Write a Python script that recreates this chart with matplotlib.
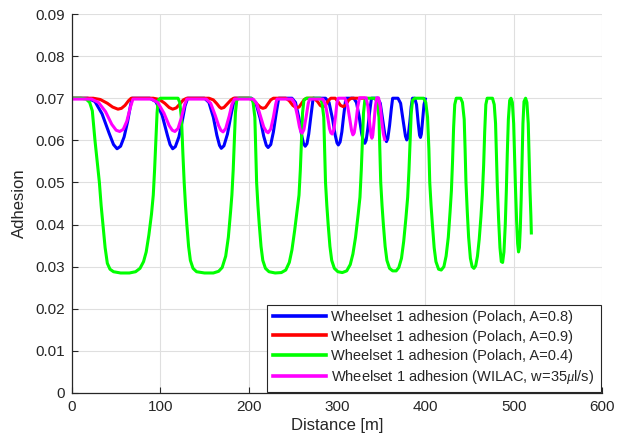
import matplotlib
matplotlib.use("Agg")
import matplotlib.pyplot as plt

# ---- data (distance [m], adhesion) ----
blue_x = [0, 18, 26, 34, 42, 47, 51, 55, 59, 63, 66, 68,
          88, 95, 102, 108, 111, 114, 117, 121, 125, 128, 131,
          150, 155, 160, 164, 167, 169, 172, 176, 180, 184,
          203, 208, 213, 217, 220, 222, 225, 228, 231, 234,
          249, 253, 257, 260, 262, 264, 266, 268, 270, 273,
          287, 291, 295, 298, 300, 301.5, 303.5, 305.5, 307.5, 310,
          319, 322, 325, 328, 330, 331.5, 333, 335, 337, 339,
          346, 349, 352, 354.5, 356, 357.5, 359.5, 361.5, 363,
          369, 372, 375, 377.5, 379, 380.5, 382.5, 384, 385.5,
          388, 390, 392, 393.5, 394.5, 395.5, 397, 398.5, 400]
blue_y = [0.0700, 0.0700, 0.0692, 0.0663, 0.0617, 0.0590, 0.0580, 0.0586, 0.0608, 0.0645, 0.0680, 0.0700,
          0.0700, 0.0692, 0.0660, 0.0612, 0.0590, 0.0580, 0.0585, 0.0608, 0.0648, 0.0682, 0.0700,
          0.0700, 0.0690, 0.0655, 0.0612, 0.0588, 0.0581, 0.0587, 0.0615, 0.0660, 0.0700,
          0.0700, 0.0690, 0.0652, 0.0610, 0.0588, 0.0583, 0.0590, 0.0620, 0.0662, 0.0700,
          0.0700, 0.0690, 0.0652, 0.0612, 0.0593, 0.0586, 0.0592, 0.0615, 0.0650, 0.0700,
          0.0700, 0.0690, 0.0650, 0.0612, 0.0594, 0.0589, 0.0596, 0.0620, 0.0658, 0.0700,
          0.0700, 0.0690, 0.0658, 0.0615, 0.0598, 0.0593, 0.0600, 0.0630, 0.0668, 0.0700,
          0.0700, 0.0688, 0.0645, 0.0608, 0.0597, 0.0604, 0.0635, 0.0675, 0.0700,
          0.0700, 0.0688, 0.0645, 0.0610, 0.0601, 0.0608, 0.0645, 0.0680, 0.0700,
          0.0700, 0.0685, 0.0640, 0.0612, 0.0607, 0.0615, 0.0650, 0.0685, 0.0698]

red_x = [0, 24, 32, 40, 46, 52, 56, 60, 64, 67,
         92, 99, 105, 110, 114, 118, 122, 126, 130,
         155, 160, 164, 167, 169, 172, 176, 180, 183,
         200, 205, 209, 213, 216, 219, 222, 225, 228,
         242, 246, 250, 254, 257, 260, 263, 266,
         274, 278, 281, 284, 287, 290, 293,
         298, 301, 304, 307, 310, 313, 316,
         320, 324, 330]
red_y = [0.0700, 0.0700, 0.0697, 0.0688, 0.0679, 0.0674, 0.0676, 0.0683, 0.0694, 0.0700,
         0.0700, 0.0697, 0.0688, 0.0678, 0.0674, 0.0677, 0.0686, 0.0696, 0.0700,
         0.0700, 0.0696, 0.0687, 0.0679, 0.0676, 0.0678, 0.0687, 0.0696, 0.0700,
         0.0700, 0.0696, 0.0687, 0.0679, 0.0676, 0.0678, 0.0687, 0.0696, 0.0700,
         0.0700, 0.0694, 0.0683, 0.0677, 0.0679, 0.0688, 0.0697, 0.0700,
         0.0700, 0.0692, 0.0683, 0.0679, 0.0683, 0.0694, 0.0700,
         0.0700, 0.0692, 0.0683, 0.0680, 0.0684, 0.0695, 0.0700,
         0.0700, 0.0700, 0.0700]

green_x = [0, 10, 16, 20, 23, 26, 28.5, 31, 33, 35, 37.5, 40, 43, 47, 55, 65, 72, 77, 81, 84, 87, 90, 92, 93.5, 95, 96.3, 97.5, 100,
           120, 122, 124, 125.5, 127, 128.5, 130, 132, 134, 137, 141, 150, 160, 166, 170, 174, 177, 179.5, 181, 182.5, 183.8, 185, 186.5, 189,
           203, 205, 207, 208, 209, 210.5, 212, 214, 216, 219, 223, 230, 237, 242, 246, 249, 252, 255, 257, 258.5, 259.8, 261, 262.5, 265,
           281, 283, 285, 286, 287, 288.5, 290, 292, 294, 297, 301, 306, 311, 315, 318, 321, 324, 326, 327.5, 328.8, 330, 331.5, 334,
           343, 345.5, 347.5, 348.5, 349.5, 351, 352.5, 354.5, 356.5, 359.5, 363, 367, 370, 373, 375.5, 378, 380, 381.5, 382.8, 384, 385.5, 388,
           398, 400.5, 402.5, 404, 405, 406.5, 408, 410, 412, 415, 418, 421, 423.5, 426, 428, 429.5, 430.8, 432, 433.3, 435,
           440, 442, 444, 445, 446, 447.5, 449, 451, 453, 455, 457, 459, 461, 463, 464.5, 466, 467.2, 468.5, 470,
           476, 478, 479.5, 480.5, 481.5, 483, 484.5, 486, 487.5, 489, 490.5, 491.7, 492.8, 494, 495.5, 497,
           498.5, 500, 501, 502, 503.3, 504.5, 505.5, 506.5, 507.5, 508.5, 509.5, 510.5, 511.7, 513.5, 515, 516.5, 517.5, 518.5, 519.5, 520]
green_y = [0.0700, 0.0700, 0.0698, 0.0690, 0.0670, 0.0600, 0.0550, 0.0500, 0.0445, 0.0400, 0.0345, 0.0308, 0.0294, 0.0288, 0.0285, 0.0285, 0.0288, 0.0296, 0.0312, 0.0335, 0.0375, 0.0425, 0.0470, 0.0530, 0.0600, 0.0665, 0.0695, 0.0700,
           0.0700, 0.0690, 0.0650, 0.0570, 0.0500, 0.0445, 0.0400, 0.0348, 0.0315, 0.0296, 0.0288, 0.0285, 0.0285, 0.0289, 0.0298, 0.0325, 0.0370, 0.0430, 0.0470, 0.0530, 0.0600, 0.0665, 0.0695, 0.0700,
           0.0700, 0.0690, 0.0655, 0.0580, 0.0500, 0.0445, 0.0400, 0.0348, 0.0315, 0.0296, 0.0288, 0.0285, 0.0286, 0.0292, 0.0310, 0.0340, 0.0385, 0.0435, 0.0470, 0.0530, 0.0600, 0.0665, 0.0695, 0.0700,
           0.0700, 0.0690, 0.0655, 0.0580, 0.0500, 0.0445, 0.0400, 0.0348, 0.0315, 0.0296, 0.0288, 0.0286, 0.0290, 0.0305, 0.0330, 0.0370, 0.0425, 0.0465, 0.0530, 0.0600, 0.0665, 0.0695, 0.0700,
           0.0700, 0.0690, 0.0655, 0.0580, 0.0500, 0.0445, 0.0400, 0.0348, 0.0315, 0.0296, 0.0290, 0.0290, 0.0298, 0.0320, 0.0360, 0.0415, 0.0465, 0.0530, 0.0600, 0.0665, 0.0695, 0.0700,
           0.0700, 0.0690, 0.0655, 0.0580, 0.0500, 0.0445, 0.0400, 0.0345, 0.0312, 0.0294, 0.0292, 0.0300, 0.0325, 0.0370, 0.0430, 0.0480, 0.0550, 0.0630, 0.0685, 0.0700,
           0.0700, 0.0690, 0.0650, 0.0580, 0.0500, 0.0430, 0.0370, 0.0320, 0.0300, 0.0296, 0.0302, 0.0325, 0.0365, 0.0420, 0.0470, 0.0540, 0.0620, 0.0685, 0.0700,
           0.0700, 0.0685, 0.0640, 0.0560, 0.0490, 0.0410, 0.0345, 0.0312, 0.0310, 0.0335, 0.0400, 0.0480, 0.0570, 0.0650, 0.0695, 0.0700,
           0.0690, 0.0640, 0.0560, 0.0490, 0.0410, 0.0355, 0.0335, 0.0345, 0.0390, 0.0460, 0.0550, 0.0640, 0.0692, 0.0700, 0.0690, 0.0640, 0.0560, 0.0480, 0.0420, 0.0380]

mag_x = [0, 22, 30, 38, 45, 50, 54, 58, 62, 66, 69,
         90, 97, 104, 110, 113.5, 116.5, 120, 124, 127.5, 130,
         152, 157, 162, 166, 168.5, 171, 174, 178, 181, 184,
         205, 209, 213, 217, 220, 222, 225, 228, 230.5, 232,
         249, 252, 255, 257.5, 259, 260.5, 262.5, 265, 267.5, 269,
         284, 287, 289.5, 291.5, 293, 294.5, 296.5, 298.5, 300, 301.5,
         309, 312, 314.5, 316.5, 318, 319.5, 321.5, 323.5, 325.5,
         333, 335, 337, 338.5, 339.5, 340.5, 342, 343.5, 345,
         347, 349, 351, 352.5, 354]
mag_y = [0.0698, 0.0698, 0.0690, 0.0668, 0.0638, 0.0624, 0.0621, 0.0626, 0.0645, 0.0678, 0.0698,
         0.0698, 0.0690, 0.0665, 0.0635, 0.0624, 0.0621, 0.0628, 0.0655, 0.0685, 0.0698,
         0.0698, 0.0688, 0.0660, 0.0635, 0.0624, 0.0620, 0.0628, 0.0658, 0.0685, 0.0698,
         0.0698, 0.0688, 0.0660, 0.0632, 0.0621, 0.0618, 0.0627, 0.0655, 0.0685, 0.0698,
         0.0698, 0.0688, 0.0660, 0.0632, 0.0621, 0.0617, 0.0625, 0.0655, 0.0688, 0.0698,
         0.0698, 0.0685, 0.0655, 0.0628, 0.0618, 0.0615, 0.0625, 0.0660, 0.0690, 0.0700,
         0.0700, 0.0682, 0.0650, 0.0623, 0.0613, 0.0618, 0.0645, 0.0680, 0.0701,
         0.0701, 0.0680, 0.0640, 0.0612, 0.0605, 0.0612, 0.0645, 0.0682, 0.0701,
         0.0701, 0.0680, 0.0640, 0.0615, 0.0602]

labels = ["Wheelset 1 adhesion (Polach, A=0.8)",
          "Wheelset 1 adhesion (Polach, A=0.9)",
          "Wheelset 1 adhesion (Polach, A=0.4)",
          r"Wheelset 1 adhesion (WILAC, w=35$\mu$l/s)"]

x_ticks = [0, 100, 200, 300, 400, 500, 600]
y_ticks = [0, 0.01, 0.02, 0.03, 0.04, 0.05, 0.06, 0.07, 0.08, 0.09]

plt.rcParams['font.family'] = ['Liberation Sans', 'DejaVu Sans']
plt.rcParams['mathtext.fontset'] = 'custom'
plt.rcParams['mathtext.it'] = 'Liberation Serif:italic'

txt = '#262626'
fig = plt.figure(figsize=(6.18, 4.45), dpi=100)
ax = fig.add_axes([72/618, 1-393/445, 530/618, 379/445])

lw = 2.2
ax.plot(blue_x, blue_y, color=(0, 0, 1), lw=lw, label=labels[0], solid_joinstyle='round')
ax.plot(red_x, red_y, color=(1, 0, 0), lw=lw, label=labels[1], solid_joinstyle='round')
ax.plot(green_x, green_y, color=(0, 1, 0), lw=lw, label=labels[2], solid_joinstyle='round')
ax.plot(mag_x, mag_y, color=(1, 0, 1), lw=lw, label=labels[3], solid_joinstyle='round')

ax.set_xlim(0, 600)
ax.set_ylim(0, 0.09)
ax.set_xticks(x_ticks)
ax.set_yticks(y_ticks)
ax.set_xticklabels([str(v) for v in x_ticks])
ax.set_yticklabels(['0'] + ['%.2f' % v for v in y_ticks[1:]])
ax.grid(True, color='#dfdfdf', lw=0.8)
ax.set_axisbelow(True)
for s in ['top', 'right']:
    ax.spines[s].set_visible(False)
for s in ['left', 'bottom']:
    ax.spines[s].set_color(txt)
    ax.spines[s].set_linewidth(0.9)
ax.tick_params(direction='in', length=4, width=0.8, colors=txt, labelsize=11, pad=5)
ax.set_xlabel('Distance [m]', fontsize=12, color=txt, labelpad=3)
ax.set_ylabel('Adhesion', fontsize=12, color=txt, labelpad=6)

leg = ax.legend(loc='lower right', fontsize=10.5, frameon=True, fancybox=False,
                edgecolor=txt, framealpha=1, borderaxespad=0.1, handlelength=3.6,
                labelspacing=0.35, borderpad=0.4, handletextpad=0.4)
leg.get_frame().set_linewidth(0.8)
for t in leg.get_texts():
    t.set_color(txt)
for l in leg.get_lines():
    l.set_linewidth(2.6)

fig.savefig('out.png', dpi=100)
